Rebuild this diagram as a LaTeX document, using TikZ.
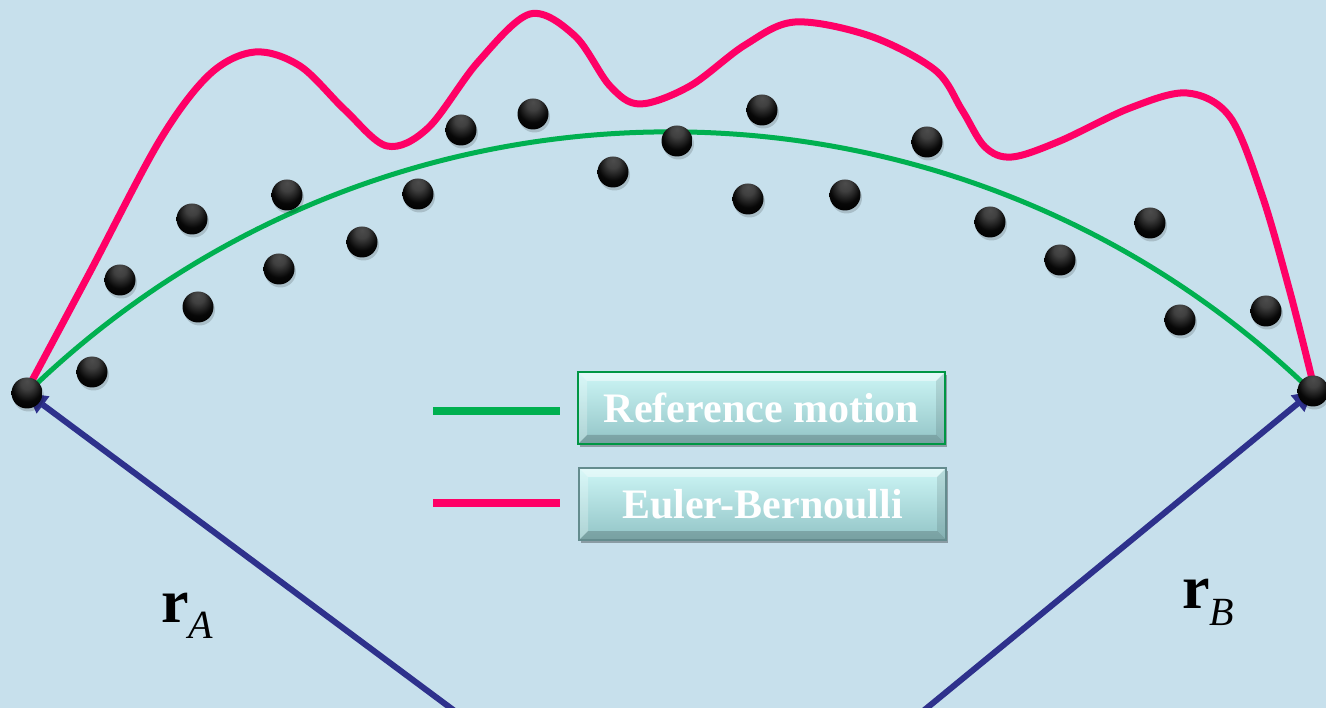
\documentclass[tikz,border=0pt]{standalone}
\usepackage{fontspec}
\setmainfont{Liberation Serif}
\usetikzlibrary{arrows.meta,shadows}
\definecolor{bg}{RGB}{199,224,236}
\definecolor{pinkc}{RGB}{255,0,102}
\definecolor{greenc}{RGB}{0,176,80}
\definecolor{bluec}{RGB}{46,49,140}
\definecolor{boxtop}{RGB}{205,246,246}
\definecolor{boxbot}{RGB}{146,196,198}
\definecolor{boxedge}{RGB}{100,140,142}
\pgfdeclareradialshading{glossball}{\pgfpoint{0bp}{20bp}}{%
  color(0bp)=(black!70); color(10bp)=(black!75); color(24bp)=(black!97);
  color(34bp)=(black); color(46bp)=(black!90); color(50bp)=(black!80)}
\tikzset{
  ball/.style={circle, minimum size=31pt, inner sep=0pt, shading=glossball,
    preaction={fill=black, fill opacity=0.15, transform canvas={shift={(1.5pt,-3pt)}}}},
  legendbox/.style={minimum width=367pt, minimum height=72pt, inner sep=0pt,
    top color=boxtop, bottom color=boxbot, text=white,
    font=\fontsize{42}{42}\selectfont\bfseries,
    drop shadow={shadow xshift=2pt, shadow yshift=-3pt, opacity=0.3, fill=black},
    path picture={
      \fill[white, opacity=0.45] (path picture bounding box.north west) -- (path picture bounding box.north east)
        -- ([shift={(-9,9)}]path picture bounding box.north east) -- ([shift={(9,9)}]path picture bounding box.north west) -- cycle;
      \fill[white, opacity=0.25] (path picture bounding box.north west) -- ([shift={(9,9)}]path picture bounding box.north west)
        -- ([shift={(9,-9)}]path picture bounding box.south west) -- (path picture bounding box.south west) -- cycle;
      \fill[black, opacity=0.10] (path picture bounding box.north east) -- ([shift={(-9,9)}]path picture bounding box.north east)
        -- ([shift={(-9,-9)}]path picture bounding box.south east) -- (path picture bounding box.south east) -- cycle;
      \fill[black, opacity=0.18] (path picture bounding box.south west) -- (path picture bounding box.south east)
        -- ([shift={(-9,-9)}]path picture bounding box.south east) -- ([shift={(9,-9)}]path picture bounding box.south west) -- cycle;
    }},
  vec/.style={bluec, line width=6pt, -{Triangle[length=20pt,width=20pt]}},
  legline/.style={line width=8pt},
  biglabel/.style={anchor=base west, inner sep=0pt, font=\fontsize{62}{62}\selectfont}
}
\begin{document}
\begin{tikzpicture}[x=1pt,y=-1pt]
\useasboundingbox (0,0) rectangle (1326,708);
\fill[bg] (0,0) rectangle (1326,708);

% end coordinates of position vectors
\coordinate (oA) at (456,712);
\coordinate (oB) at (922,712);
\coordinate (cA) at (27,393);
\coordinate (cB) at (1313,391);

% reference motion (green arc)
\draw[greenc, line width=5pt] (cA) arc[start angle=-134.2, end angle=-45.8, radius=922.6];

% Euler-Bernoulli (pink curve)
\draw[pinkc, line width=7pt, line cap=round, line join=round] plot[smooth, tension=0.55] coordinates {
 (27,390) (90,272) (160,140) (210,74) (255,52) (300,66) (345,110) (387,146)
 (428,128) (478,62) (530,14) (575,36) (610,86) (640,104) (690,86) (745,45)
 (795,22) (870,36) (935,70) (962,110) (985,147) (1012,157) (1060,141)
 (1130,108) (1187,93) (1230,117) (1262,195) (1290,292) (1313,383)};

% position vectors
\draw[vec] (oA) -- (cA);
\draw[vec] (oB) -- (cB);

% end balls
\node[ball] (A) at (cA) {};
\node[ball] (B) at (cB) {};

% particles
\foreach \i/\p in {1/{(92,372)}, 2/{(120,280)}, 3/{(192,219)}, 4/{(198,307)}, 5/{(287,195)},
  6/{(279,269)}, 7/{(362,242)}, 8/{(418,194)}, 9/{(461,130)}, 10/{(533,114)},
  11/{(613,172)}, 12/{(677,141)}, 13/{(762,110)}, 14/{(748,199)}, 15/{(845,195)},
  16/{(927,142)}, 17/{(990,222)}, 18/{(1060,260)}, 19/{(1150,223)}, 20/{(1180,320)},
  21/{(1266,311)}}
  \node[ball] (d\i) at \p {};

% legend
\coordinate (g1) at (433,411);
\coordinate (g2) at (560,411);
\coordinate (p1) at (433,503);
\coordinate (p2) at (560,503);
\draw[legline, greenc] (g1) -- (g2);
\draw[legline, pinkc] (p1) -- (p2);
\node[legendbox, draw=greenc!85!black, line width=2pt] (L1) at (761.5,408) {Reference motion};
\node[legendbox, draw=boxedge, line width=1.5pt] (L2) at (762.5,504) {Euler-Bernoulli};

% labels
\node[biglabel] (rA) at (161,622) {\textbf{r}\raisebox{-16pt}{\fontsize{40}{40}\selectfont\textit{A}}};
\node[biglabel] (rB) at (1182,608) {\textbf{r}\raisebox{-17pt}{\fontsize{40}{40}\selectfont\textit{B}}};
\end{tikzpicture}
\end{document}
